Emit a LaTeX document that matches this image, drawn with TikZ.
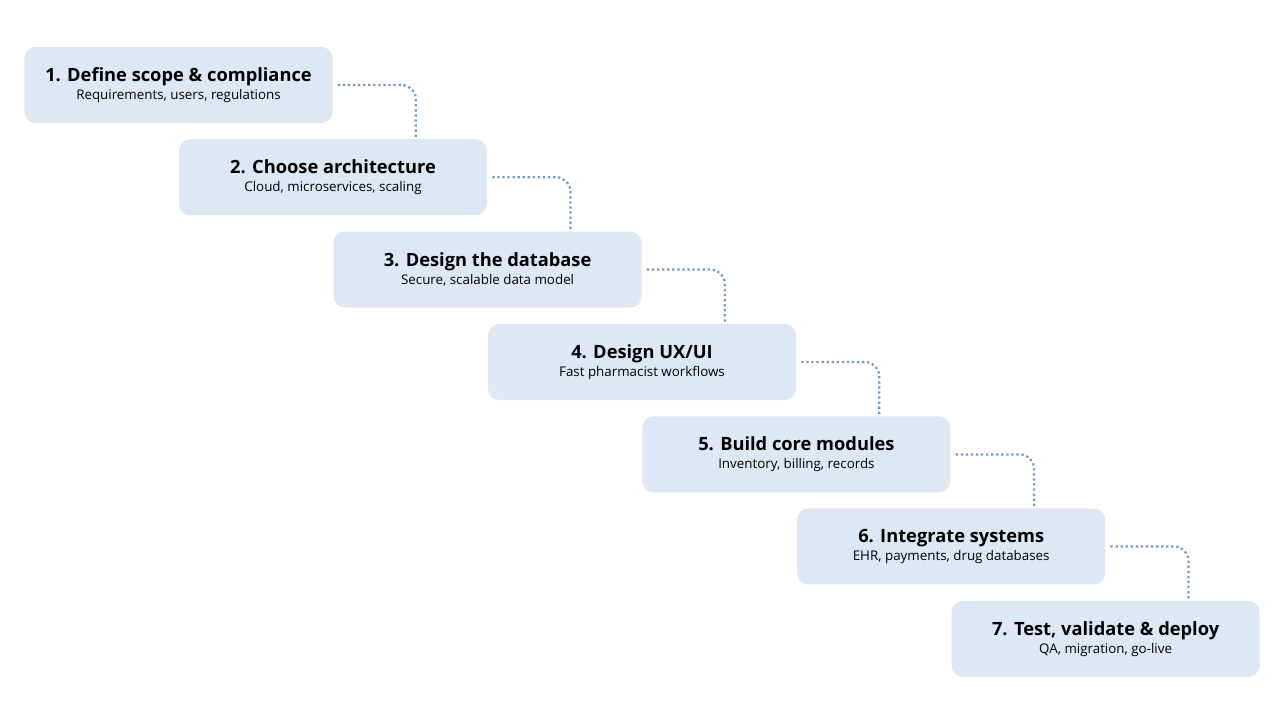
\documentclass[tikz,border=0pt]{standalone}
\usepackage{fontspec}
\setmainfont{Open Sans}
\usetikzlibrary{calc}
\definecolor{stepfill}{HTML}{DCE8F4}
\definecolor{linkblue}{HTML}{6C9BC4}
\tikzset{
  stepbox/.style={fill=stepfill, rounded corners=8pt, minimum width=7.7cm, minimum height=1.9cm, align=center, inner sep=2pt},
  link/.style={draw=linkblue, line width=1.6pt, dotted, rounded corners=10pt}
}
\newcommand{\steptext}[2]{{\bfseries\fontsize{13}{16}\selectfont #1}\\[1pt]{\fontsize{9.5}{12}\selectfont #2}}
\begin{document}
\begin{tikzpicture}
\useasboundingbox (0,0) rectangle (32,-18);
\node[stepbox] (s1) at (4.4625,-2.125) {\steptext{1. Define scope \& compliance}{Requirements, users, regulations}};
\node[stepbox] (s2) at (8.325,-4.43) {\steptext{2. Choose architecture}{Cloud, microservices, scaling}};
\node[stepbox] (s3) at (12.19,-6.74) {\steptext{3. Design the database}{Secure, scalable data model}};
\node[stepbox] (s4) at (16.05,-9.05) {\steptext{4. Design UX/UI}{Fast pharmacist workflows}};
\node[stepbox] (s5) at (19.91,-11.36) {\steptext{5. Build core modules}{Inventory, billing, records}};
\node[stepbox] (s6) at (23.78,-13.66) {\steptext{6. Integrate systems}{EHR, payments, drug databases}};
\node[stepbox] (s7) at (27.64,-15.97) {\steptext{7. Test, validate \& deploy}{QA, migration, go-live}};
\foreach \a/\b in {s1/s2,s2/s3,s3/s4,s4/s5,s5/s6,s6/s7}
  \draw[link] ($(\a.east)+(0.125,0)$) -| ($(\b.north)+(2.07,0)$);
\end{tikzpicture}
\end{document}
